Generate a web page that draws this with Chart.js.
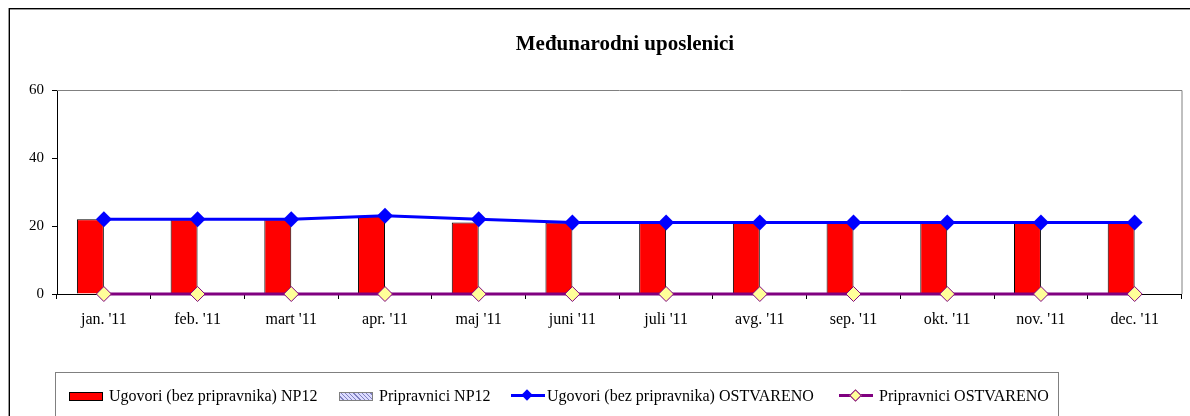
<!DOCTYPE html>
<html lang="bs">
  <head>
    <meta charset="UTF-8" />
    <title>Međunarodni uposlenici</title>
    <script src="https://cdn.jsdelivr.net/npm/chart.js"></script>
    <style>
      body { margin: 0; width: 1190px; height: 416px; overflow: hidden; position: relative; background: #fff; font-family: "Liberation Serif", "Times New Roman", serif; }
      .frame { position: absolute; left: 9px; top: 8px; width: 1400px; height: 600px; border: 1px solid #000; box-shadow: -1px 0 0 #999, inset 0 1px 0 #999; }
      #chart { position: absolute; left: 0; top: 0; }
      .title { position: absolute; left: 0; width: 1250px; top: 31px; text-align: center; font-weight: bold; font-size: 21px; }
      .legend { position: absolute; left: 55px; top: 372px; width: 1002px; height: 80px; border: 1px solid #808080; }
      .item { position: absolute; top: 14px; font-size: 16px; line-height: 18px; white-space: nowrap; }
      .sw { position: absolute; top: 5px; width: 32px; height: 7px; border: 1px solid #000; }
      .ln { position: absolute; top: 7px; width: 34px; height: 3px; }
      .dm { position: absolute; top: 4px; left: 12px; width: 8px; height: 8px; transform: rotate(45deg); }
    </style>
  </head>
  <body>
    <div class="frame"></div>
    <canvas id="chart" width="1190" height="416"></canvas>
    <div class="title">Međunarodni uposlenici</div>
    <div class="legend">
      <div class="item" style="left: 13px"><span class="sw" style="background: #ff0000"></span><span style="padding-left: 40px">Ugovori (bez pripravnika) NP12</span></div>
      <div class="item" style="left: 283px"><span class="sw" style="border-color: #808080; background: repeating-linear-gradient(45deg, #dcdcff 0 2px, #8080c0 2px 3px)"></span><span style="padding-left: 40px">Pripravnici NP12</span></div>
      <div class="item" style="left: 455px"><span class="ln" style="background: #0000ff"></span><span class="dm" style="background: #0000ff"></span><span style="padding-left: 36px">Ugovori (bez pripravnika) OSTVARENO</span></div>
      <div class="item" style="left: 783px"><span class="ln" style="background: #800080"></span><span class="dm" style="background: #ffff99; border: 1px solid #800080; width: 7px; height: 7px"></span><span style="padding-left: 40px">Pripravnici OSTVARENO</span></div>
    </div>

    <script>
      var months = ["jan. '11", "feb. '11", "mart '11", "apr. '11", "maj '11", "juni '11", "juli '11", "avg. '11", "sep. '11", "okt. '11", "nov. '11", "dec. '11"];
      var ugovoriPlan = [22, 22, 22, 23, 21, 21, 21, 21, 21, 21, 21, 21];
      var pripravniciPlan = [0, 0, 0, 0, 0, 0, 0, 0, 0, 0, 0, 0];
      var ugovoriOstvareno = [22, 22, 22, 23, 22, 21, 21, 21, 21, 21, 21, 21];
      var pripravniciOstvareno = [0, 0, 0, 0, 0, 0, 0, 0, 0, 0, 0, 0];
      var yTicks = [0, 20, 40, 60];

      // gray border on top and right of the plot area (Excel style)
      var plotBorder = {
        id: "plotBorder",
        beforeDatasetsDraw: function (chart) {
          var a = chart.chartArea, ctx = chart.ctx;
          ctx.save();
          ctx.strokeStyle = "#808080";
          ctx.lineWidth = 1;
          ctx.beginPath();
          ctx.moveTo(a.left, a.top + 0.5);
          ctx.lineTo(a.right + 0.5, a.top + 0.5);
          ctx.lineTo(a.right + 0.5, a.bottom);
          ctx.stroke();
          ctx.restore();
        },
      };

      var tickFont = { family: "'Liberation Serif', 'Times New Roman', serif", size: 15 };

      var ctx = document.getElementById("chart").getContext("2d");
      var chart = new Chart(ctx, {
        type: "bar",
        data: {
          labels: months,
          datasets: [
            {
              type: "line",
              label: "Ugovori (bez pripravnika) OSTVARENO",
              data: ugovoriOstvareno,
              borderColor: "#0000ff",
              backgroundColor: "#0000ff",
              borderWidth: 3,
              pointStyle: "rectRot",
              pointRadius: 8,
              pointBorderWidth: 0,
              tension: 0,
              clip: false,
              order: 0,
            },
            {
              type: "line",
              label: "Pripravnici OSTVARENO",
              data: pripravniciOstvareno,
              borderColor: "#800080",
              backgroundColor: "#ffff99",
              borderWidth: 3,
              pointStyle: "rectRot",
              pointRadius: 7.5,
              pointBorderColor: "#800080",
              pointBorderWidth: 1,
              tension: 0,
              clip: false,
              order: 0,
            },
            {
              label: "Ugovori (bez pripravnika) NP12",
              data: ugovoriPlan,
              backgroundColor: "#ff0000",
              borderColor: "#000000",
              borderWidth: 1,
              order: 1,
            },
            {
              label: "Pripravnici NP12",
              data: pripravniciPlan,
              backgroundColor: "#dcdcff",
              borderColor: "#000000",
              borderWidth: 0,
              order: 1,
            },
          ],
        },
        options: {
          responsive: false,
          animation: false,
          devicePixelRatio: 1,
          layout: { padding: { left: 0, right: 8, top: 90, bottom: 82 } },
          datasets: { bar: { categoryPercentage: 0.575, barPercentage: 1 } },
          plugins: { legend: { display: false }, title: { display: false }, tooltip: { enabled: false } },
          scales: {
            x: {
              grid: { display: true, drawOnChartArea: false, offset: true, tickLength: 5, color: "#000" },
              border: { color: "#000", width: 1 },
              ticks: { color: "#000", font: { family: tickFont.family, size: 16 }, padding: 11, maxRotation: 0, autoSkip: false },
              afterFit: function (s) { s.height = 40; },
            },
            y: {
              min: 0,
              max: 60,
              afterBuildTicks: function (s) { s.ticks = yTicks.map(function (v) { return { value: v }; }); },
              grid: { drawOnChartArea: false, tickLength: 5, color: "#000" },
              border: { color: "#000", width: 1 },
              ticks: { color: "#000", font: tickFont, padding: 8 },
              afterFit: function (s) { s.width = 57; },
            },
          },
        },
        plugins: [plotBorder],
      });
    </script>
  </body>
</html>
